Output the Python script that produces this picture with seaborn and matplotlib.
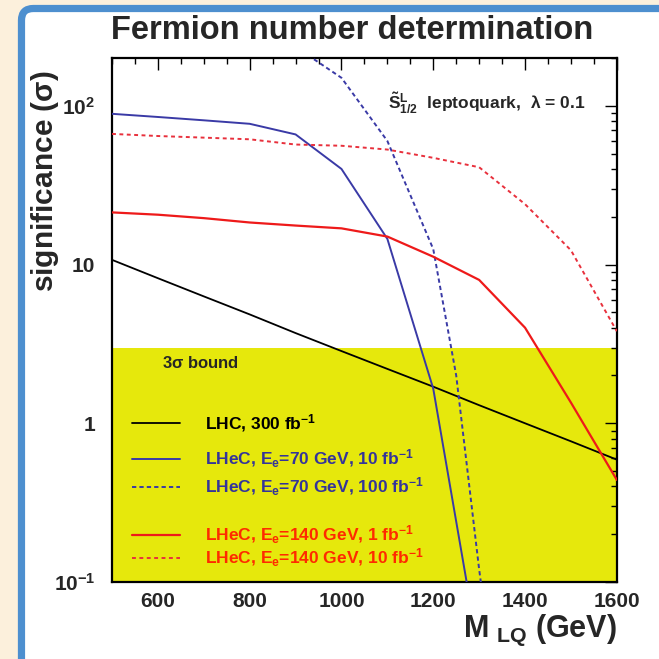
import matplotlib
matplotlib.use("Agg")
import matplotlib.pyplot as plt
from matplotlib.patches import FancyBboxPatch
from matplotlib.lines import Line2D
from matplotlib.ticker import FixedLocator, MultipleLocator, LogLocator, NullFormatter
import pandas as pd
import seaborn as sns

# ---- data: discovery significance vs leptoquark mass ----
mass = [500, 600, 700, 800, 900, 1000, 1100, 1200, 1300, 1400, 1500, 1600]
lhc_300 = [10.7, 8.2, 6.3, 4.85, 3.7, 2.85, 2.2, 1.7, 1.3, 1.0, 0.77, 0.59]
lhec140_1 = [21.3, 20.6, 19.6, 18.4, 17.6, 16.9, 15.0, 11.2, 8.0, 4.0, 1.35, 0.44]
lhec140_10 = [66.5, 64.5, 63.0, 61.5, 57.0, 56.0, 53.0, 47.0, 41.0, 24.0, 12.3, 3.8]

mass_70_10 = [500, 600, 700, 800, 900, 1000, 1100, 1200, 1300]
lhec70_10 = [89, 85, 81, 77, 66, 40, 14.5, 1.65, 0.035]

mass_70_100 = [900, 1000, 1100, 1200, 1250, 1300, 1350]
lhec70_100 = [235, 150, 60, 12.5, 2.0, 0.12, 0.01]

sigma_bound = 3.0
y_ticks = [0.1, 1, 10, 100]
y_tick_labels = [r"$10^{-1}$", "1", "10", r"$10^{2}$"]
x_ticks = [600, 800, 1000, 1200, 1400, 1600]

series = [
    ("LHC, 300 fb$^{-1}$", mass, lhc_300, "black", "-", 1.3, "black"),
    ("LHeC, E$_{e}$=70 GeV, 10 fb$^{-1}$", mass_70_10, lhec70_10, "#3a3aa6", "-", 1.4, "#34349a"),
    ("LHeC, E$_{e}$=70 GeV, 100 fb$^{-1}$", mass_70_100, lhec70_100, "#3a3aa6", (0, (2.2, 1.6)), 1.4, "#34349a"),
    ("LHeC, E$_{e}$=140 GeV, 1 fb$^{-1}$", mass, lhec140_1, "#ee1a1a", "-", 1.6, "#ff2a00"),
    ("LHeC, E$_{e}$=140 GeV, 10 fb$^{-1}$", mass, lhec140_10, "#e8303c", (0, (2.0, 1.8)), 1.4, "#ff2a00"),
]

sns.set_style("white")
plt.rcParams["font.family"] = ["Liberation Sans", "DejaVu Sans"]
plt.rcParams["font.weight"] = "bold"
plt.rcParams["mathtext.default"] = "regular"

fig = plt.figure(figsize=(6.59, 6.59), dpi=100)
fig.patch.set_facecolor("#fcf0dc")

# white panel with a blue rounded border
panel = FancyBboxPatch((0.0326, -0.1), 1.2, 1.0871,
                       boxstyle="round,pad=0,rounding_size=0.018",
                       transform=fig.transFigure, facecolor="white",
                       edgecolor="#4d8fcf", linewidth=5.2, zorder=-5)
fig.add_artist(panel)

ax = fig.add_axes([0.170, 0.1168, 0.766, 0.7952])
ax.set_facecolor("white")

# 3 sigma band
ax.axhspan(0.1, sigma_bound, color="#e6e80c", lw=0, zorder=0)

for label, xs, ys, col, ls, lw, _ in series:
    df = pd.DataFrame({"mass": xs, "significance": ys})
    sns.lineplot(data=df, x="mass", y="significance", ax=ax, color=col,
                 linestyle=ls, linewidth=lw, zorder=3, legend=False)

ax.set_yscale("log")
ax.set_xlim(500, 1600)
ax.set_ylim(0.1, 200)

ax.xaxis.set_major_locator(FixedLocator(x_ticks))
ax.xaxis.set_minor_locator(MultipleLocator(50))
ax.set_xticklabels([str(v) for v in x_ticks])
ax.yaxis.set_major_locator(FixedLocator(y_ticks))
ax.yaxis.set_minor_locator(LogLocator(base=10, subs=range(2, 10)))
ax.yaxis.set_minor_formatter(NullFormatter())
ax.set_yticklabels(y_tick_labels)

ax.tick_params(which="both", direction="in", top=True, right=True,
               width=1.0, color="black")
ax.tick_params(which="major", length=8.5)
ax.tick_params(which="minor", length=4.2)
ax.tick_params(axis="x", which="major", pad=7, labelsize=15)
ax.tick_params(axis="y", which="major", pad=12, labelsize=15)
for t in ax.get_xticklabels() + ax.get_yticklabels():
    t.set_fontweight("bold")

for sp in ax.spines.values():
    sp.set_linewidth(1.6)
    sp.set_color("black")

ax.set_xlabel("")
ax.set_ylabel("")

fig.text(0.534, 0.954, "Fermion number determination", ha="center",
         va="center", fontsize=23.5, fontweight="bold")
fig.text(0.069, 0.725, r"significance ($\sigma$)", rotation=90, ha="center",
         va="center", fontsize=21.5, fontweight="bold")
fig.text(0.936, 0.043, r"M$_{\ LQ}$ (GeV)", ha="right", va="center",
         fontsize=22, fontweight="bold")

ax.text(0.547, 0.914, r"$\tilde{S}^{L}_{1/2}$  leptoquark,  $\lambda$ = 0.1",
        transform=ax.transAxes, ha="left", va="center", fontsize=12.5,
        fontweight="bold", zorder=5)

ax.text(0.099, 0.418, r"3$\sigma$ bound", transform=ax.transAxes,
        ha="left", va="center", fontsize=12, fontweight="bold", zorder=5)

# legend keys and labels inside the band
key_rows = [0.303, 0.235, 0.181, 0.0897, 0.0458]
for (label, _, _, col, ls, lw, tcol), yk in zip(series, key_rows):
    ax.add_line(Line2D([0.040, 0.135], [yk, yk], transform=ax.transAxes,
                       color=col, linestyle=ls, linewidth=lw, zorder=5))
    ax.text(0.184, yk, label, transform=ax.transAxes, ha="left",
            va="center", fontsize=12.5, fontweight="bold", color=tcol,
            zorder=5)

fig.savefig("out.png", dpi=100, facecolor=fig.get_facecolor())
